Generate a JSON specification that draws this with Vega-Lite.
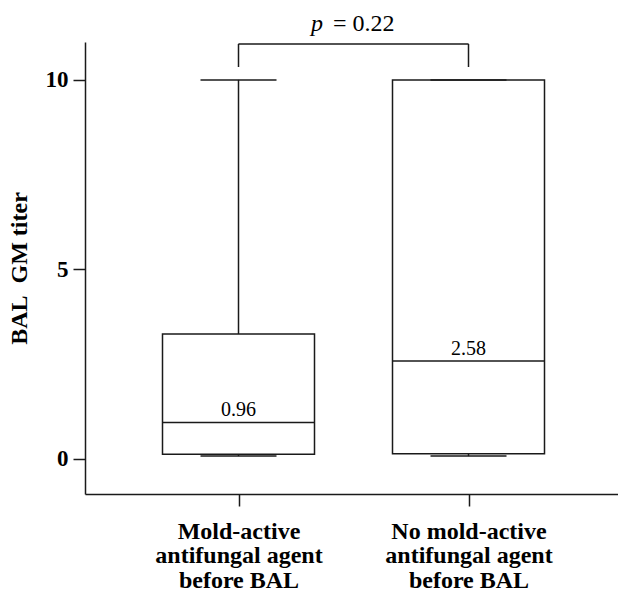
{
  "$schema": "https://vega.github.io/schema/vega-lite/v6.json",
  "width": 533,
  "height": 452,
  "autosize": {"type": "none"},
  "padding": {"left": 85, "top": 42, "right": 0, "bottom": 98},
  "background": "white",
  "config": {
    "view": {"stroke": null},
    "font": "Times New Roman, Liberation Serif, serif",
    "text": {"font": "Times New Roman, Liberation Serif, serif"},
    "axis": {"grid": false, "domainColor": "#1a1a1a", "tickColor": "#1a1a1a", "domainWidth": 1.5, "tickWidth": 1.5, "labelColor": "#000", "titleColor": "#000"}
  },
  "datasets": {
    "boxes": [
      {"group": 1, "label": "Mold-active antifungal agent before BAL", "min": 0.07, "q1": 0.12, "median": 0.96, "q3": 3.29, "max": 10},
      {"group": 2, "label": "No mold-active antifungal agent before BAL", "min": 0.07, "q1": 0.13, "median": 2.58, "q3": 10, "max": 10}
    ],
    "legs": [
      {"x": 1, "y": 10.34, "y2": 10.95},
      {"x": 2, "y": 10.34, "y2": 10.95}
    ],
    "span": [
      {"x": 1, "x2": 2, "y": 10.95}
    ],
    "pv": [
      {"x": 1.367, "y": 11.29, "t": "p"}
    ],
    "pv2": [
      {"x": 1.411, "y": 11.29, "t": "= 0.22"}
    ]
  },
  "encoding": {
    "x": {
      "field": "group", "type": "quantitative",
      "scale": {"domain": [0.3326, 2.65], "nice": false, "zero": false, "padding": 0},
      "axis": {
        "values": [1, 2], "title": null, "tickSize": 12, "labelPadding": 13,
        "labelFont": "Times New Roman, Liberation Serif, serif", "labelFontWeight": "bold", "labelFontSize": 24, "labelLineHeight": 24.5,
        "labelExpr": "datum.value == 1 ? ['Mold-active', 'antifungal agent', 'before BAL'] : ['No mold-active', 'antifungal agent', 'before BAL']"
      }
    },
    "y": {
      "field": "q1", "type": "quantitative",
      "scale": {"domain": [-0.93, 11.0], "nice": false, "zero": false, "padding": 0},
      "axis": {
        "values": [0, 5, 10], "title": "BAL\u00a0\u00a0GM titer", "tickSize": 12, "labelPadding": 5,
        "labelFont": "Times New Roman, Liberation Serif, serif", "labelFontWeight": "bold", "labelFontSize": 23,
        "titleFont": "Times New Roman, Liberation Serif, serif", "titleFontWeight": "bold", "titleFontSize": 24, "titlePadding": 14
      }
    }
  },
  "layer": [
    {
      "data": {"name": "boxes"},
      "mark": {"type": "rule", "color": "#1a1a1a", "strokeWidth": 1.5},
      "encoding": {"y": {"field": "q3", "type": "quantitative"}, "y2": {"field": "max"}}
    },
    {
      "data": {"name": "boxes"},
      "mark": {"type": "rule", "color": "#1a1a1a", "strokeWidth": 1.5},
      "encoding": {"y": {"field": "min", "type": "quantitative"}, "y2": {"field": "q1"}}
    },
    {
      "data": {"name": "boxes"},
      "mark": {"type": "bar", "width": 152, "fill": "white", "stroke": "#1a1a1a", "strokeWidth": 1.5},
      "encoding": {"y": {"field": "q1", "type": "quantitative"}, "y2": {"field": "q3"}}
    },
    {
      "data": {"name": "boxes"},
      "mark": {"type": "tick", "orient": "horizontal", "size": 152, "thickness": 1.5, "color": "#1a1a1a", "opacity": 1},
      "encoding": {"y": {"field": "median", "type": "quantitative"}}
    },
    {
      "data": {"name": "boxes"},
      "mark": {"type": "tick", "orient": "horizontal", "size": 76, "thickness": 1.5, "color": "#1a1a1a", "opacity": 1},
      "encoding": {"y": {"field": "max", "type": "quantitative"}}
    },
    {
      "data": {"name": "boxes"},
      "mark": {"type": "tick", "orient": "horizontal", "size": 76, "thickness": 1.5, "color": "#1a1a1a", "opacity": 1},
      "encoding": {"y": {"field": "min", "type": "quantitative"}}
    },
    {
      "data": {"name": "boxes"},
      "mark": {"type": "text", "font": "Times New Roman, Liberation Serif, serif", "fontSize": 20, "baseline": "alphabetic", "dy": -6, "color": "#000"},
      "encoding": {"y": {"field": "median", "type": "quantitative"}, "text": {"field": "median", "type": "quantitative", "format": ".2f"}}
    },
    {
      "data": {"name": "legs"},
      "mark": {"type": "rule", "color": "#1a1a1a", "strokeWidth": 1.5},
      "encoding": {"x": {"field": "x", "type": "quantitative"}, "y": {"field": "y", "type": "quantitative"}, "y2": {"field": "y2"}}
    },
    {
      "data": {"name": "span"},
      "mark": {"type": "rule", "color": "#1a1a1a", "strokeWidth": 1.5},
      "encoding": {"x": {"field": "x", "type": "quantitative"}, "x2": {"field": "x2"}, "y": {"field": "y", "type": "quantitative"}}
    },
    {
      "data": {"name": "pv"},
      "mark": {"type": "text", "font": "Times New Roman, Liberation Serif, serif", "fontSize": 24, "fontStyle": "italic", "align": "right", "baseline": "alphabetic", "color": "#000", "clip": false},
      "encoding": {"x": {"field": "x", "type": "quantitative"}, "y": {"field": "y", "type": "quantitative"}, "text": {"field": "t"}}
    },
    {
      "data": {"name": "pv2"},
      "mark": {"type": "text", "font": "Times New Roman, Liberation Serif, serif", "fontSize": 24, "align": "left", "baseline": "alphabetic", "color": "#000", "clip": false},
      "encoding": {"x": {"field": "x", "type": "quantitative"}, "y": {"field": "y", "type": "quantitative"}, "text": {"field": "t"}}
    }
  ]
}
